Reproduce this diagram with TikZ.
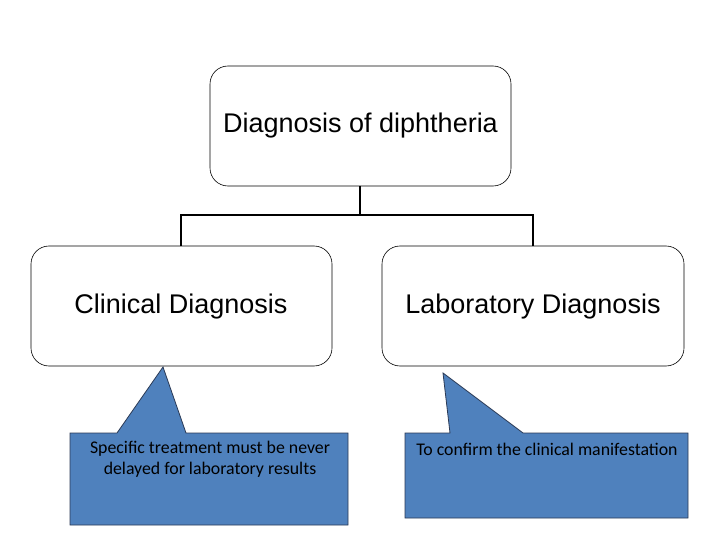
\documentclass[tikz,border=0pt]{standalone}
\usepackage{fontspec}
\setmainfont{Liberation Sans}
\newfontfamily\calfont{Carlito}
\definecolor{callblue}{HTML}{4F81BD}
\definecolor{calledge}{HTML}{2B3A55}
\begin{document}
\begin{tikzpicture}[x=1pt,y=-1pt,
  box/.style={draw=black,rounded corners=18pt,line width=0.6pt},
  conn/.style={line width=2.6pt},
  btext/.style={font=\fontsize{27}{30}\selectfont,inner sep=0pt},
  call/.style={fill=callblue,draw=calledge,line width=0.8pt},
  ctext/.style={font=\calfont\fontsize{17.8}{21}\selectfont,align=center,inner sep=0pt}]
\useasboundingbox (0,0) rectangle (720,540);
\draw[box] (210,66) rectangle (511,186);
\node[btext] (top) at (360.5,126) {Diagnosis of diphtheria};
\draw[box] (31,246) rectangle (332,366);
\node[btext] (cl) at (181,307) {Clinical Diagnosis};
\draw[box] (382,246) rectangle (684,366);
\node[btext] (lab) at (533,307) {Laboratory Diagnosis};
\coordinate (tb) at (360,186);
\coordinate (j) at (360,215);
\coordinate (lt) at (181,246);
\coordinate (rt) at (533,246);
\draw[conn] (tb) -- (j);
\draw[conn] (lt) |- (j) -| (rt);
\draw[call] (70,433) -- (117,433) -- (163,367) -- (186,433) -- (348,433) -- (348,525) -- (70,525) -- cycle;
\node[ctext] (c1) at (210,459.5) {Specific treatment must be never\\delayed for laboratory results};
\draw[call] (405,433) -- (450,433) -- (443,373) -- (523,433) -- (688,433) -- (688,518) -- (405,518) -- cycle;
\node[ctext] (c2) at (547,449) {To confirm the clinical manifestation};
\end{tikzpicture}
\end{document}
